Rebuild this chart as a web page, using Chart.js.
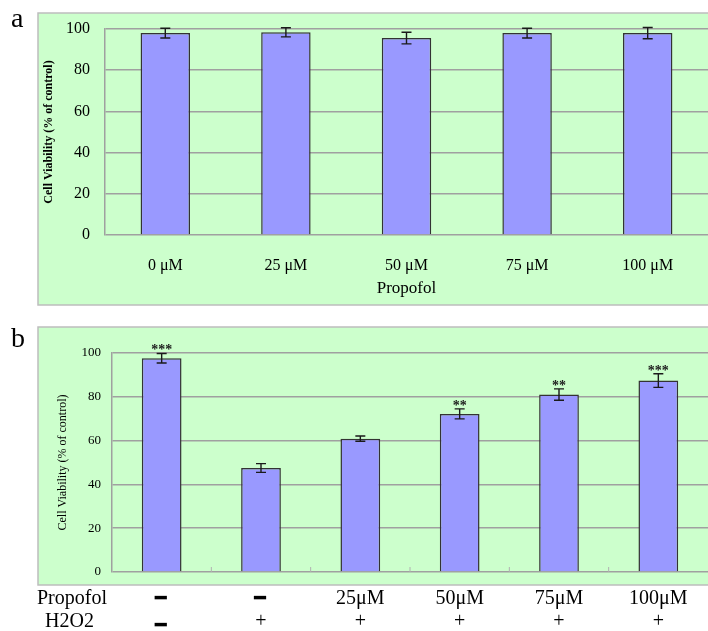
<!DOCTYPE html>
<html>
<head>
<meta charset="utf-8">
<script src="https://cdn.jsdelivr.net/npm/chart.js@4.4.0/dist/chart.umd.min.js"></script>
<style>
  body { margin: 0; background: #fff; width: 708px; height: 631px; overflow: hidden; position: relative; }
  canvas { position: absolute; left: 0; }
  #chartA { top: 0; }
  #chartB { top: 310px; }
</style>
</head>
<body>
<canvas id="chartA" width="708" height="310"></canvas>
<canvas id="chartB" width="708" height="321"></canvas>
<script>
// Panel a: propofol alone
const labelsA = ["0 μM", "25 μM", "50 μM", "75 μM", "100 μM"];
const valuesA = [98.0, 98.4, 95.6, 98.0, 98.0];
const errorsA = [2.4, 2.2, 2.8, 2.4, 2.7];

// Panel b: propofol + H2O2
const propofolRow = ["–", "–", "25μM", "50μM", "75μM", "100μM"];
const h2o2Row = ["–", "+", "+", "+", "+", "+"];
const valuesB = [97.6, 47.5, 60.9, 72.2, 81.0, 87.4];
const errorsB = [2.2, 2.0, 1.2, 2.3, 2.6, 3.1];
const starsB = ["***", "", "", "**", "**", "***"];

const yTicks = [0, 20, 40, 60, 80, 100];

const serif = '"Liberation Serif", "Times New Roman", serif';
const gridGrey = "#a0a0a0";
const getById = (id) => document.getElementById(id);

// green panel + letter
const framePlugin = {
  id: "frame",
  beforeDraw(chart, args, opts) {
    const ctx = chart.ctx;
    ctx.save();
    ctx.fillStyle = "#ccffcc";
    ctx.fillRect(opts.left, opts.top, chart.width - opts.left + 10, opts.bottom - opts.top);
    ctx.strokeStyle = "#bdbdbd";
    ctx.lineWidth = 1.5;
    ctx.strokeRect(opts.left, opts.top, chart.width - opts.left + 10, opts.bottom - opts.top);
    ctx.fillStyle = "#000";
    ctx.font = `28px ${serif}`;
    ctx.textAlign = "left";
    ctx.textBaseline = "alphabetic";
    ctx.fillText(opts.letter, 11, opts.letterY);
    ctx.restore();
  }
};

const errorBarPlugin = {
  id: "errorBars",
  afterDatasetsDraw(chart, args, opts) {
    const ctx = chart.ctx;
    const y = chart.scales.y;
    const values = chart.data.datasets[0].data;
    ctx.save();
    ctx.strokeStyle = "#1a1a1a";
    ctx.lineWidth = 1.4;
    chart.getDatasetMeta(0).data.forEach((bar, i) => {
      const top = y.getPixelForValue(values[i] + opts.errors[i]);
      const bot = y.getPixelForValue(values[i] - opts.errors[i]);
      const half = opts.cap / 2;
      ctx.beginPath();
      ctx.moveTo(bar.x, top); ctx.lineTo(bar.x, bot);
      ctx.moveTo(bar.x - half, top); ctx.lineTo(bar.x + half, top);
      ctx.moveTo(bar.x - half, bot); ctx.lineTo(bar.x + half, bot);
      ctx.stroke();
      if (opts.stars && opts.stars[i]) {
        ctx.fillStyle = "#1a1a1a";
        ctx.font = `bold 14px ${serif}`;
        ctx.textAlign = "center";
        ctx.textBaseline = "alphabetic";
        ctx.fillText(opts.stars[i], bar.x, top + 1);
      }
    });
    ctx.restore();
  }
};

// table of treatments under panel b
const rowLabelPlugin = {
  id: "rowLabels",
  afterDraw(chart, args, opts) {
    const ctx = chart.ctx;
    const x = chart.scales.x;
    ctx.save();
    ctx.fillStyle = "#000";
    ctx.strokeStyle = "#000";
    ctx.textBaseline = "alphabetic";
    opts.rows.forEach(row => {
      ctx.font = `20px ${serif}`;
      ctx.textAlign = "left";
      ctx.fillText(row.title, row.titleX, row.y);
      row.values.forEach((t, i) => {
        const px = x.getPixelForValue(i);
        ctx.textAlign = "center";
        if (t === "–") {
          ctx.font = `bold 20px ${serif}`;
          ctx.lineWidth = 2;
          ctx.fillText(t, px - 1, row.dashY);
          ctx.strokeText(t, px - 1, row.dashY);
        } else {
          ctx.font = `20px ${serif}`;
          ctx.fillText(t, px, row.y);
        }
      });
    });
    // short tick marks between categories
    const bottom = chart.chartArea.bottom;
    ctx.strokeStyle = "#b0b0b0";
    ctx.lineWidth = 1;
    for (let i = 1; i < x.ticks.length; i++) {
      const bx = (x.getPixelForValue(i - 1) + x.getPixelForValue(i)) / 2;
      ctx.beginPath();
      ctx.moveTo(bx, bottom);
      ctx.lineTo(bx, bottom - 5);
      ctx.stroke();
    }
    ctx.restore();
  }
};

function yScale(tickSize, yTitleFont, yTitlePad, tickPad, width) {
  return {
    min: 0,
    max: 100,
    afterBuildTicks: s => { s.ticks = yTicks.map(v => ({ value: v })); },
    afterFit: s => { s.width = width; },
    ticks: { color: "#000", padding: tickPad, font: { family: serif, size: tickSize } },
    grid: { color: gridGrey, lineWidth: 1.5, drawTicks: false },
    border: { display: true, color: gridGrey, width: 1.5 },
    title: {
      display: true,
      text: "Cell Viability (% of control)",
      color: "#000",
      font: yTitleFont,
      padding: { top: yTitlePad, bottom: 0 },
    },
  };
}

window.addEventListener("DOMContentLoaded", () => {
  ////////////////////////////////////////
  // panel a
  new Chart(getById("chartA").getContext("2d"), {
    type: "bar",
    data: {
      labels: labelsA,
      datasets: [{
        data: valuesA,
        backgroundColor: "#9999ff",
        borderColor: "#333333",
        borderWidth: 1.5,
        categoryPercentage: 1,
        barPercentage: 0.41,
      }],
    },
    options: {
      responsive: false,
      animation: false,
      layout: { padding: { top: 29, left: 38, right: 0, bottom: 0 } },
      plugins: {
        legend: { display: false },
        tooltip: { enabled: false },
        frame: { left: 38, top: 13, bottom: 305, letter: "a", letterY: 27 },
        errorBars: { errors: errorsA, cap: 10 },
      },
      scales: {
        x: {
          afterFit: s => { s.height = 75; },
          grid: { display: false, drawTicks: false },
          border: { display: false },
          ticks: { color: "#000", padding: 21, font: { family: serif, size: 16 } },
          title: {
            display: true,
            text: "Propofol",
            color: "#000",
            font: { family: serif, size: 17 },
            padding: { top: 0, bottom: 11 },
          },
        },
        y: yScale(16, { family: serif, size: 12, weight: "bold" }, 4, 15, 67),
      },
    },
    plugins: [framePlugin, errorBarPlugin],
  });

  ////////////////////////////////////////
  // panel b
  new Chart(getById("chartB").getContext("2d"), {
    type: "bar",
    data: {
      labels: propofolRow,
      datasets: [{
        data: valuesB,
        backgroundColor: "#9999ff",
        borderColor: "#333333",
        borderWidth: 1.5,
        categoryPercentage: 1,
        barPercentage: 0.40,
      }],
    },
    options: {
      responsive: false,
      animation: false,
      layout: { padding: { top: 43, left: 38, right: 0, bottom: 0 } },
      plugins: {
        legend: { display: false },
        tooltip: { enabled: false },
        frame: { left: 38, top: 17, bottom: 275, letter: "b", letterY: 37 },
        errorBars: { errors: errorsB, cap: 10, stars: starsB },
        rowLabels: {
          rows: [
            { title: "Propofol", titleX: 37, y: 294, dashY: 293, values: propofolRow },
            { title: "H2O2", titleX: 45, y: 317, dashY: 320, values: h2o2Row },
          ],
        },
      },
      scales: {
        x: {
          afterFit: s => { s.height = 59; },
          grid: { display: false, drawTicks: false },
          border: { display: false },
          ticks: { display: false },
        },
        y: yScale(13, { family: serif, size: 12 }, 18, 11, 74),
      },
    },
    plugins: [framePlugin, errorBarPlugin, rowLabelPlugin],
  });
});
</script>
</body>
</html>
